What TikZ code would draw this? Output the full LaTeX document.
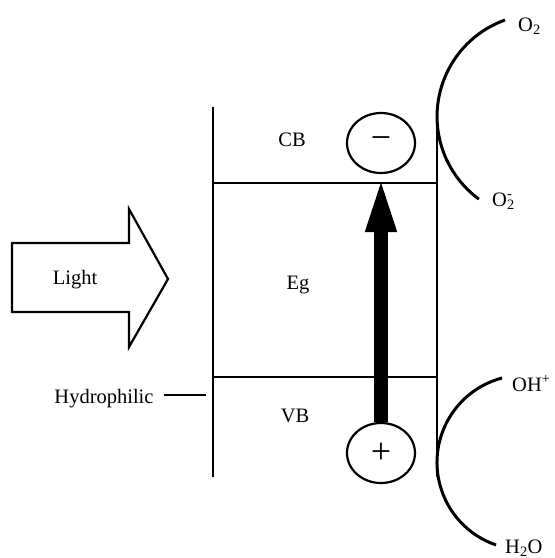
\documentclass[tikz,border=0pt]{standalone}
\usepackage{fontspec}
\setmainfont{Liberation Serif}
\usetikzlibrary{arrows.meta,shapes.geometric}
\begin{document}
\begin{tikzpicture}[x=1pt,y=-1pt,
  lbl/.style={font=\fontsize{20.5}{24}\selectfont, inner sep=0pt, anchor=base},
  rlbl/.style={lbl, anchor=base west},
  wall/.style={line width=2.4pt},
  level/.style={line width=2.2pt},
  surf/.style={line width=3pt},
  carrier/.style={draw, ellipse, line width=2.2pt, minimum width=68pt, minimum height=60pt, inner sep=0pt, font=\fontsize{36}{38}\selectfont},
  excite/.style={line width=14pt, -{Triangle[length=58pt,width=27pt]}},
  lightarrow/.style={draw, line width=2.2pt, line join=miter}]
\useasboundingbox (0,0) rectangle (555,558);
% walls and levels
\coordinate (LT) at (213,107);
\coordinate (LB) at (213,477);
\coordinate (RT) at (437,107);
\coordinate (RB) at (437,477);
\coordinate (CBL) at (213,183);
\coordinate (CBR) at (437,183);
\coordinate (VBL) at (213,377);
\coordinate (VBR) at (437,377);
\draw[wall] (LT) -- (LB);
\draw[wall] (RT) -- (RB);
\draw[level] (CBL) -- (CBR);
\draw[level] (VBL) -- (VBR);
% band labels
\node[lbl] (cb) at (292,146) {CB};
\node[lbl] (eg) at (298,289) {Eg};
\node[lbl] (vb) at (295,422) {VB};
% carriers
\node[carrier] (minus) at (381,143) {−};
\node[carrier] (plus) at (381,453) {+};
\draw[excite] (plus.north) -- (minus.south);
% light arrow
\draw[lightarrow] (12,243) -- (129,243) -- (129,209) -- (168,279) -- (129,347) -- (129,312) -- (12,312) -- cycle;
\node[lbl] (light) at (75,284) {Light};
% hydrophilic
\node[lbl] (hydro) at (104,403) {Hydrophilic};
\coordinate (hydroend) at (206,395);
\draw[level] (hydro.east |- hydroend) ++(10,0) coordinate (hydrostart) -- (hydroend);
% surface reactions
\coordinate (o2end) at (505,20);
\draw[surf] (o2end) arc[start angle=-109.7, end angle=-233.7, radius=102.5];
\coordinate (ohend) at (502,378);
\draw[surf] (ohend) arc[start angle=-104.8, end angle=-251.1, radius=87.3];
\node[rlbl] (o2) at (518,31) {O\textsubscript{2}};
\node[rlbl] (o2m) at (492,206) {O\rlap{\textsuperscript{-}}\textsubscript{2}};
\node[rlbl] (oh) at (512,391) {OH\textsuperscript{+}};
\node[rlbl] (h2o) at (505,553) {H\textsubscript{2}O};
\end{tikzpicture}
\end{document}
